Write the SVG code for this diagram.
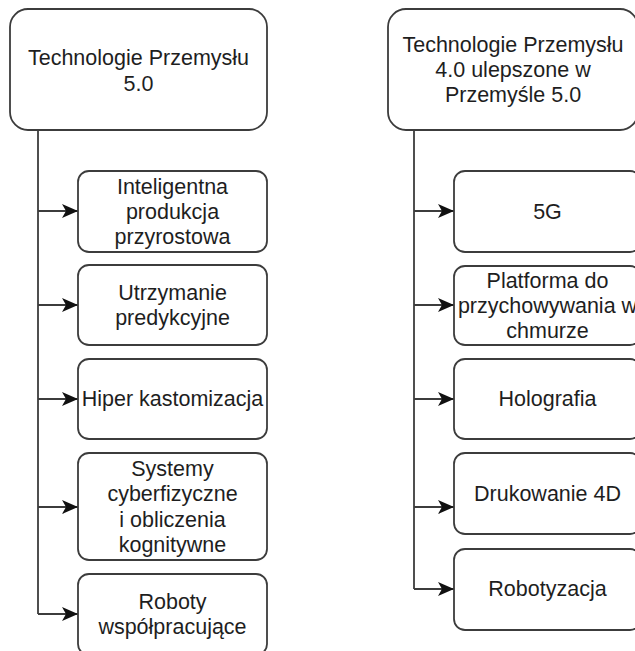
<svg xmlns="http://www.w3.org/2000/svg" width="635" height="651" viewBox="0 0 635 651">
<style>
.box{fill:#ffffff;stroke:#3c3c3c;stroke-width:1.8}
.t{font-family:"Liberation Sans",Arial,sans-serif;font-size:21.5px;fill:#1e1e1e;text-anchor:middle}
.c{fill:none;stroke:#3c3c3c;stroke-width:1.8}
</style>
<defs>
<marker id="ah" markerWidth="18" markerHeight="16" refX="16" refY="8" orient="auto" markerUnits="userSpaceOnUse">
<path d="M16,8 L0,1 L4,8 L0,15 Z" fill="#111111"/>
</marker>
</defs>
<rect width="635" height="651" fill="#ffffff"/>
<g id="connectors">
<path class="c" d="M38,130 V614"/>
<path class="c" d="M38,211 H78" marker-end="url(#ah)"/>
<path class="c" d="M38,305 H78" marker-end="url(#ah)"/>
<path class="c" d="M38,399 H78" marker-end="url(#ah)"/>
<path class="c" d="M38,507 H78" marker-end="url(#ah)"/>
<path class="c" d="M38,614 H78" marker-end="url(#ah)"/>
<path class="c" d="M414,130 V589"/>
<path class="c" d="M414,211 H454" marker-end="url(#ah)"/>
<path class="c" d="M414,305 H454" marker-end="url(#ah)"/>
<path class="c" d="M414,399 H454" marker-end="url(#ah)"/>
<path class="c" d="M414,507 H454" marker-end="url(#ah)"/>
<path class="c" d="M414,589 H454" marker-end="url(#ah)"/>
</g>
<g id="root-left">
<rect class="box" x="10" y="9" width="257" height="121" rx="18"/>
<text class="t" x="138.5" y="65">Technologie Przemysłu</text>
<text class="t" x="138.5" y="91">5.0</text>
</g>
<g id="root-right">
<rect class="box" x="388" y="9" width="250" height="121" rx="18"/>
<text class="t" x="513" y="52">Technologie Przemysłu</text>
<text class="t" x="513" y="77">4.0 ulepszone w</text>
<text class="t" x="513" y="102">Przemyśle 5.0</text>
</g>
<g id="l1">
<rect class="box" x="78" y="171" width="189" height="81" rx="11"/>
<text class="t" x="172.5" y="193.5">Inteligentna</text>
<text class="t" x="172.5" y="218.5">produkcja</text>
<text class="t" x="172.5" y="243.5">przyrostowa</text>
</g>
<g id="l2">
<rect class="box" x="78" y="265" width="189" height="80" rx="11"/>
<text class="t" x="172.5" y="300">Utrzymanie</text>
<text class="t" x="172.5" y="325">predykcyjne</text>
</g>
<g id="l3">
<rect class="box" x="78" y="359" width="189" height="80" rx="11"/>
<text class="t" x="172.5" y="406">Hiper kastomizacja</text>
</g>
<g id="l4">
<rect class="box" x="78" y="453" width="189" height="107" rx="11"/>
<text class="t" x="172.5" y="476">Systemy</text>
<text class="t" x="172.5" y="501">cyberfizyczne</text>
<text class="t" x="172.5" y="527">i obliczenia</text>
<text class="t" x="172.5" y="552">kognitywne</text>
</g>
<g id="l5">
<rect class="box" x="78" y="574" width="189" height="81" rx="11"/>
<text class="t" x="172.5" y="609">Roboty</text>
<text class="t" x="172.5" y="634">współpracujące</text>
</g>
<g id="r1">
<rect class="box" x="454" y="171" width="187" height="81" rx="11"/>
<text class="t" x="547.5" y="219">5G</text>
</g>
<g id="r2">
<rect class="box" x="454" y="266" width="187" height="79" rx="11"/>
<text class="t" x="547.5" y="288">Platforma do</text>
<text class="t" x="547.5" y="313">przychowywania w</text>
<text class="t" x="547.5" y="338">chmurze</text>
</g>
<g id="r3">
<rect class="box" x="454" y="359" width="187" height="80" rx="11"/>
<text class="t" x="547.5" y="406">Holografia</text>
</g>
<g id="r4">
<rect class="box" x="454" y="453" width="187" height="81" rx="11"/>
<text class="t" x="547.5" y="501">Drukowanie 4D</text>
</g>
<g id="r5">
<rect class="box" x="454" y="549" width="187" height="81" rx="11"/>
<text class="t" x="547.5" y="596">Robotyzacja</text>
</g>
</svg>
